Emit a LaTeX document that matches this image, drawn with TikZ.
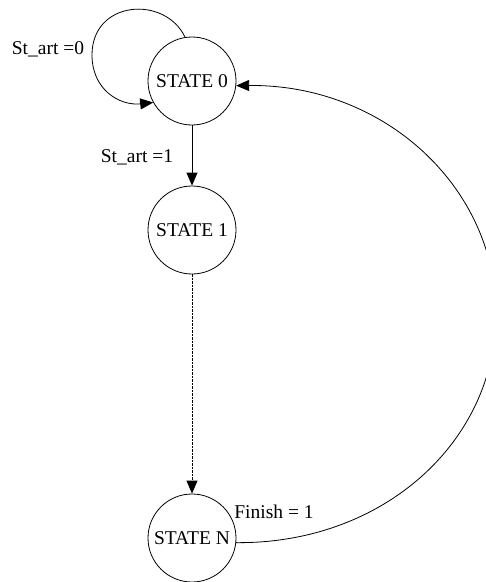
\documentclass[tikz,border=0pt]{standalone}
\usepackage{fontspec}
\setmainfont{Liberation Serif}
\usetikzlibrary{arrows.meta}

\begin{document}
\begin{tikzpicture}[x=1pt,y=-1pt,
    etat/.style={draw,circle,minimum size=88pt,inner sep=0pt,line width=0.8pt,font=\fontsize{19.5}{23}\selectfont},
    lbl/.style={inner sep=0pt,font=\fontsize{19.5}{23}\selectfont},
    fl/.style={-{Triangle[length=13pt,width=11pt]},line width=0.8pt}]
		% Cadre
		\useasboundingbox (0,0) rectangle (486,582);
		% Etats
		\node[etat] (s0) at (192,81) {STATE 0};
		\node[etat] (s1) at (192,230) {STATE 1};
		\node[etat] (sN) at (192,538) {STATE N};
		% Boucle sur l'etat 0
		\draw[fl] (s0.99) .. controls (165,-5) and (92,0) .. (92,55) .. controls (92,90) and (120,106) .. (s0.209);
		\node[lbl] (c0) at (48,49) {St\_art =0};
		% Etat 0 vers etat 1
		\draw[fl] (s0) -- (s1);
		\node[lbl] (c1) at (137,157) {St\_art =1};
		% Etat 1 vers etat N
		\draw[fl,dash pattern=on 2.5pt off 1pt] (s1) -- (sN);
		% Retour vers l'etat 0
		\draw[fl] (sN.-6) .. controls (384,544) and (496,441) .. (496,314) .. controls (496,187) and (384,84) .. (s0.-6);
		\node[lbl] (cN) at (274,512) {Finish = 1};
\end{tikzpicture}
\end{document}
